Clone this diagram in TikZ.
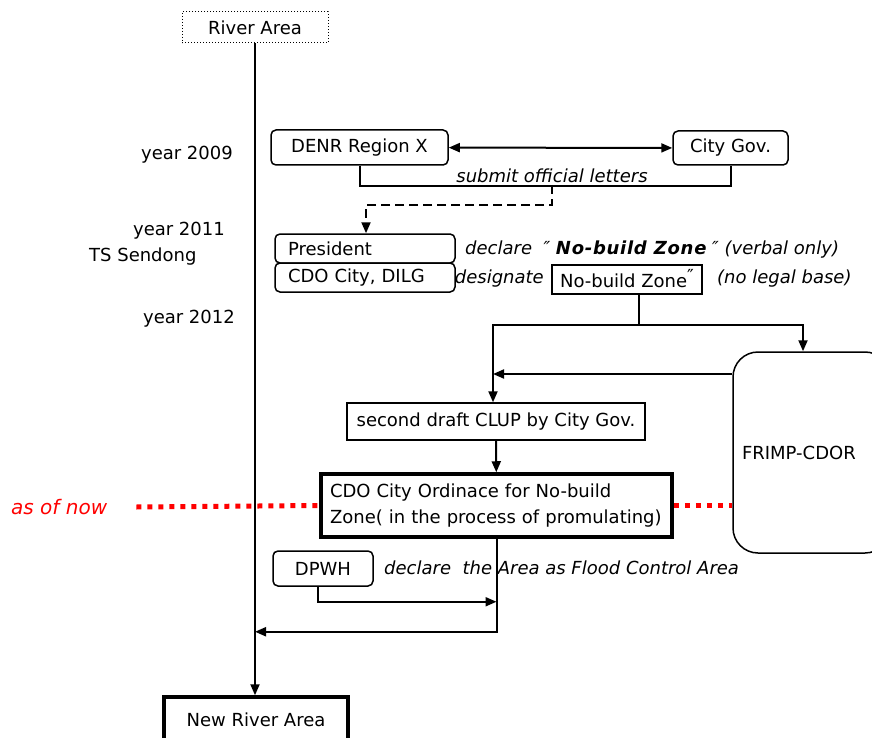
\documentclass[tikz,border=0pt]{standalone}
\usepackage{fontspec}
\setmainfont{DejaVu Sans}
\usetikzlibrary{arrows.meta}
\newcommand{\diagfont}{\fontsize{18}{22}\selectfont}
\newcommand{\flowwidth}{2pt}
\newcommand{\boldwidth}{3.5pt}
\tikzset{
  rbox/.style={draw, rounded corners=5pt, line width=1.5pt, inner sep=0pt},
  sbox/.style={draw, line width=1.4pt, inner sep=0pt},
  tbox/.style={draw, line width=\boldwidth, inner sep=0pt},
  lbl/.style={inner sep=1pt},
  note/.style={inner sep=1pt, font=\diagfont\itshape},
  plain/.style={line width=\flowwidth},
  flow/.style={line width=\flowwidth, -{Triangle[length=11pt,width=9pt]}},
  both/.style={line width=\flowwidth, {Triangle[length=11pt,width=9pt]}-{Triangle[length=11pt,width=9pt]}},
  reddot/.style={red, line width=5pt, dash pattern=on 5pt off 6pt},
}
\begin{document}
\begin{tikzpicture}[x=1pt, y=-1pt, font=\diagfont]
\useasboundingbox (0,0) rectangle (872,738);
\clip (0,0) rectangle (872,738);
% boxes
\node[draw, dotted, line width=1pt, minimum width=146pt, minimum height=31pt] (river) at (255,27.5) {River Area};
\node[tbox, minimum width=184pt, minimum height=46pt] (newriver) at (256,720) {New River Area};
\node[rbox, minimum width=177pt, minimum height=35pt] (denr) at (359.5,147.5) {DENR Region X};
\node[rbox, minimum width=115pt, minimum height=34pt] (city) at (730.5,148) {City Gov.};
\node[rbox, minimum width=180pt, minimum height=29pt, text width=154pt, align=left] (pres) at (365,248.5) {President};
\node[rbox, minimum width=180pt, minimum height=29pt, text width=154pt, align=left] (dilg) at (365,277.5) {CDO City, DILG};
\node[sbox, line width=2pt, minimum width=150pt, minimum height=29pt] (nbz) at (627,279) {No-build Zone\raisebox{5pt}{″}};
\node[rbox, rounded corners=25pt, minimum width=157pt, minimum height=201pt, text width=139pt, align=left] (frimp) at (811.5,452.5) {FRIMP-CDOR};
\node[sbox, minimum width=298pt, minimum height=37pt] (draft) at (496,421.5) {second draft CLUP by City Gov.};
\node[tbox, minimum width=351pt, minimum height=63pt, text width=333pt, align=left] (ord) at (496.5,505.5) {CDO City Ordinace for No-build\\[4pt]Zone( in the process of promulating)};
\node[rbox, minimum width=100pt, minimum height=35pt] (dpwh) at (323,568.5) {DPWH};
% years
\node[lbl, anchor=east] (y2009) at (234,155) {year 2009};
\node[lbl, anchor=east] (y2011) at (226,231) {year 2011};
\node[lbl, anchor=west] (sendong) at (88,257) {TS Sendong};
\node[lbl, anchor=east] (y2012) at (236,319) {year 2012};
% notes
\node[note] (letters) at (552,176) {submit official letters};
\node[note, anchor=west] (declare) at (464,250) {declare \ ″ \textbf{\addfontfeatures{LetterSpace=4}No-build Zone} ″ (verbal only)};
\node[note, anchor=east] (designate) at ([xshift=-6pt]nbz.west) {designate};
\node[note, anchor=west] (legal) at ([xshift=13pt]nbz.east) {(no legal base)};
\node[note, anchor=west] (flood) at (383,568) {declare \ the Area as Flood Control Area};
\node[note, red, font=\fontsize{20}{24}\selectfont\itshape, anchor=west] (now) at (10,507) {as of now};
% as of now
\draw[reddot] ([xshift=28pt]now.east) -- (ord.west);
\draw[reddot] (ord.east) -- (ord.east -| frimp.west);
% connectors
\draw[flow] (river.south) -- (river.south |- newriver.north);
\draw[both] (denr) -- (city);
\draw[plain] (denr.south) -- ++(0,20) -| (city.south);
\coordinate (letterdrop) at (552,185);
\draw[flow, dash pattern=on 9pt off 5pt] (letterdrop) -- ++(0,20) -| ([xshift=1pt]pres.north);
\draw[plain] ([xshift=12pt]nbz.south) -- ++(0,30) coordinate (fork);
\coordinate (draftin) at ([xshift=-3pt]draft.north);
\coordinate (frimpin) at ([xshift=-8.5pt]frimp.north);
\coordinate (frimpout) at ([yshift=78.5pt]frimp.west);
\draw[flow] (fork) -| (draftin);
\draw[flow] (fork) -| (frimpin);
\draw[flow] (frimpout) -- (frimpout -| draftin);
\draw[flow] (draft) -- (ord);
\draw[flow] (ord.south) -- ++(0,93) coordinate (back) -- (back -| river.south);
\draw[flow] ([xshift=-5pt]dpwh.south) -- ++(0,15) coordinate (dpwhbend) -- (dpwhbend -| ord.south);
\end{tikzpicture}
\end{document}
